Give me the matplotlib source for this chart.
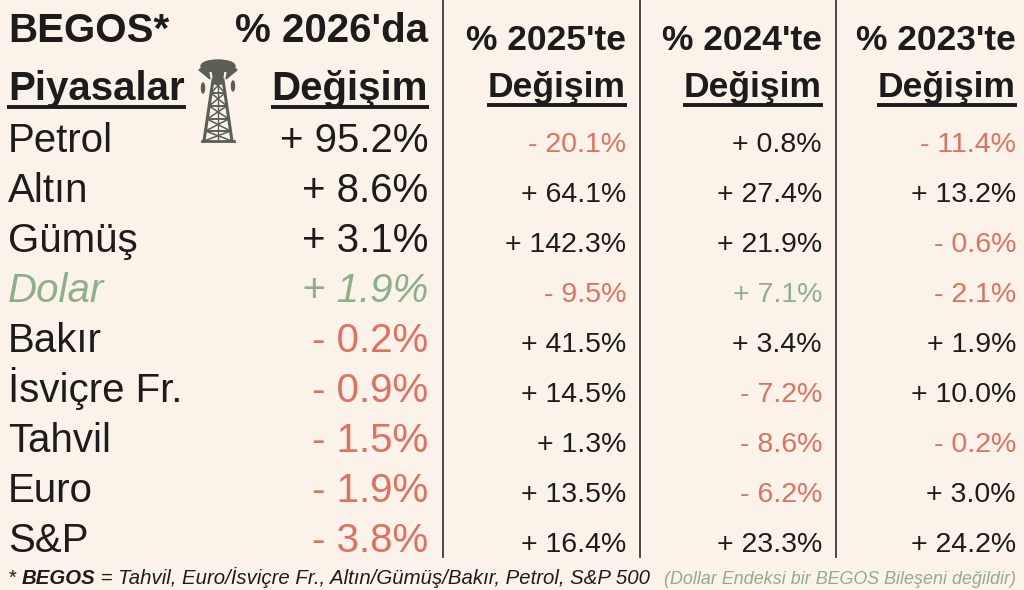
import matplotlib
matplotlib.use('Agg')
import matplotlib.pyplot as plt
from matplotlib.patches import Polygon, Ellipse

# data
markets = ['Petrol', 'Altın', 'Gümüş', 'Dolar', 'Bakır', 'İsviçre Fr.', 'Tahvil', 'Euro', 'S&P']
chg_2026 = [95.2, 8.6, 3.1, 1.9, -0.2, -0.9, -1.5, -1.9, -3.8]
chg_2025 = [-20.1, 64.1, 142.3, -9.5, 41.5, 14.5, 1.3, 13.5, 16.4]
chg_2024 = [0.8, 27.4, 21.9, 7.1, 3.4, -7.2, -8.6, -6.2, 23.3]
chg_2023 = [-11.4, 13.2, -0.6, -2.1, 1.9, 10.0, -0.2, 3.0, 24.2]
year_heads = ["% 2025'te", "% 2024'te", "% 2023'te"]
note_main = " = Tahvil, Euro/İsviçre Fr., Altın/Gümüş/Bakır, Petrol, S&P 500"
note_green = "(Dollar Endeksi bir BEGOS Bileşeni değildir)"

BG = '#FBF3EA'
INK = '#1c1c1c'
RED = '#E0705F'
GREEN = '#8FAE8A'
FONT = 'Liberation Sans'

fig = plt.figure(figsize=(10.24, 5.9), dpi=100)
fig.patch.set_facecolor(BG)
ax = fig.add_axes([0, 0, 1, 1])
ax.set_xlim(0, 1024)
ax.set_ylim(590, 0)
ax.axis('off')


def fmt(v):
    return ('+ ' if v >= 0 else '- ') + '%.1f%%' % abs(v)


def colour(v, dollar):
    if v < 0:
        return RED
    return GREEN if dollar else INK


def underline(t, y, pad=1):
    fig.canvas.draw()
    bb = t.get_window_extent()
    inv = ax.transData.inverted()
    x0, _ = inv.transform((bb.x0, 0))
    x1, _ = inv.transform((bb.x1, 0))
    ax.plot([x0 - pad, x1 + pad], [y, y], color=INK, lw=2.8, solid_capstyle='butt')


# separators
for x in [443, 640, 836]:
    ax.plot([x, x], [0, 557], color='#3a3a3a', lw=1.3)

# header, first block
ax.text(8, 42, 'BEGOS*', fontsize=29, fontweight='bold', family=FONT, color=INK)
ax.text(428, 42, "% 2026'da", fontsize=29, fontweight='bold', family=FONT, color=INK, ha='right')
t = ax.text(8, 100, 'Piyasalar', fontsize=29, fontweight='bold', family=FONT, color=INK)
underline(t, 107)
t = ax.text(428, 100, 'Değişim', fontsize=29, fontweight='bold', family=FONT, color=INK, ha='right')
underline(t, 107)

# other headers
col_right = [626, 822, 1016]
for xr, head in zip(col_right, year_heads):
    ax.text(xr, 50, head, fontsize=25.5, fontweight='bold', family=FONT, color=INK, ha='right')
    t = ax.text(xr, 97, 'Değişim', fontsize=25.5, fontweight='bold', family=FONT, color=INK, ha='right')
    underline(t, 105)

# rows
for i, name in enumerate(markets):
    y = 152 + 50 * i
    dollar = name == 'Dolar'
    style = 'italic' if dollar else 'normal'
    ax.text(8, y, name, fontsize=29, family=FONT, style=style,
            color=GREEN if dollar else INK)
    ax.text(428, y, fmt(chg_2026[i]), fontsize=29, family=FONT, style=style,
            color=colour(chg_2026[i], dollar), ha='right')
    for xr, vals in zip(col_right, [chg_2025, chg_2024, chg_2023]):
        ax.text(xr, y, fmt(vals[i]), fontsize=20.5, family=FONT,
                color=colour(vals[i], dollar), ha='right')

# oil derrick icon
dc = '#5a5e55'
legs_top, legs_bot, ytop, ybot = (213, 223), (204, 232), 80, 141
ax.plot([legs_top[0], legs_bot[0]], [ytop, ybot], color=dc, lw=2.2)
ax.plot([legs_top[1], legs_bot[1]], [ytop, ybot], color=dc, lw=2.2)
levels = [ytop, 93, 106, 119, 131, ybot]


def lx(y, side):
    f = (y - ytop) / (ybot - ytop)
    return legs_top[side] + f * (legs_bot[side] - legs_top[side])


for a, b in zip(levels[:-1], levels[1:]):
    ax.plot([lx(a, 0), lx(a, 1)], [a, a], color=dc, lw=1.4)
    ax.plot([lx(a, 0), lx(b, 1)], [a, b], color=dc, lw=1.1)
    ax.plot([lx(a, 1), lx(b, 0)], [a, b], color=dc, lw=1.1)
ax.plot([lx(ybot, 0) - 2, lx(ybot, 1) + 2], [ybot, ybot], color=dc, lw=2)
ax.plot([218, 218], [ytop, ybot], color=dc, lw=1)
# gusher
ax.add_patch(Ellipse((218, 66), 34, 12, color=dc))
ax.add_patch(Polygon([[199, 70], [207, 63], [210, 79], [204, 74]], color=dc))
ax.add_patch(Polygon([[237, 70], [229, 63], [226, 79], [232, 74]], color=dc))
ax.add_patch(Polygon([[212, 68], [224, 68], [222, 84], [214, 84]], color=dc))
ax.add_patch(Ellipse((203, 88), 3, 10, color=dc))
ax.add_patch(Ellipse((233, 86), 3, 10, color=dc))

# footnote
fig.canvas.draw()
inv = ax.transData.inverted()
x = 8
for txt, kw in [('* ', dict(style='italic')),
                ('BEGOS', dict(style='italic', fontweight='bold')),
                (note_main, dict(style='italic'))]:
    t = ax.text(x, 584, txt, fontsize=14.7, family=FONT, color=INK, **kw)
    fig.canvas.draw()
    x = inv.transform((t.get_window_extent().x1, 0))[0]
ax.text(1016, 584, note_green, fontsize=12.9, family=FONT, style='italic',
        color=GREEN, ha='right')

fig.savefig('out.png', dpi=100, facecolor=BG)
